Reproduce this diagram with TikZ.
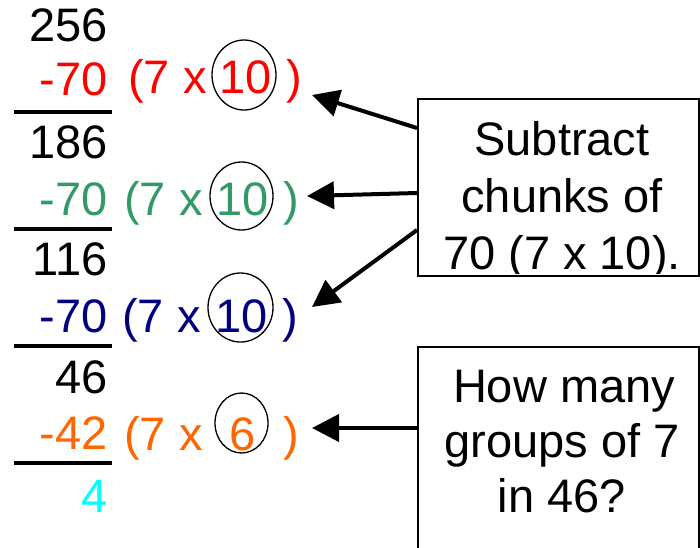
\documentclass[tikz,border=0pt]{standalone}
\usepackage{fontspec}
\setmainfont{Liberation Sans}
\usetikzlibrary{arrows.meta}
\definecolor{cred}{RGB}{255,0,0}
\definecolor{cgreen}{RGB}{51,153,102}
\definecolor{cblue}{RGB}{0,0,128}
\definecolor{corange}{RGB}{255,102,0}
\definecolor{ccyan}{RGB}{0,255,255}
\begin{document}
\begin{tikzpicture}[x=1pt,y=-1pt,
  txt/.style={inner sep=0pt, font=\fontsize{47pt}{56pt}\selectfont},
  num/.style={txt, anchor=base east},
  lft/.style={txt, anchor=base west},
  mid/.style={txt, anchor=base},
  rulebar/.style={line width=4pt},
  ring/.style={line width=1.3pt},
  arr/.style={line width=4pt, -{Triangle[length=27pt,width=27pt]}},
  boxnode/.style={draw, line width=1.5pt, inner sep=0pt, anchor=north west, minimum width=281pt}]
\useasboundingbox (0,0) rectangle (700,547);
\clip (0,0) rectangle (700,547);

% column of numbers
\node[num] (n256) at (108,41) {256};
\node[num,text=cred] (s1) at (108,95) {-70};
\draw[rulebar] (14,112) -- (112,112);
\node[num] (n186) at (108,158) {186};
\node[num,text=cgreen] (s2) at (108,215) {-70};
\draw[rulebar] (14,229) -- (112,229);
\node[num] (n116) at (108,275) {116};
\node[num,text=cblue] (s3) at (108,332) {-70};
\draw[rulebar] (14,346) -- (112,346);
\node[num] (n46) at (108,393) {46};
\node[num,text=corange] (s4) at (108,449) {-42};
\draw[rulebar] (14,463) -- (112,463);
\node[num,text=ccyan] (n4) at (108,512) {4};

% expressions
\node[lft,text=cred] (e1) at (128,93) {(7 x};
\node[mid,text=cred] (c1) at (245.5,93) {10};
\node[lft,text=cred] (p1) at (286,93) {)};
\draw[ring] (244,75) ellipse (32 and 35);

\node[lft,text=cgreen] (e2) at (124,215) {(7 x};
\node[mid,text=cgreen] (c2) at (243,215) {10};
\node[lft,text=cgreen] (p2) at (283,215) {)};
\draw[ring] (241.5,196) ellipse (31.5 and 34);

\node[lft,text=cblue] (e3) at (122,332) {(7 x};
\node[mid,text=cblue] (c3) at (242,332) {10};
\node[lft,text=cblue] (p3) at (282,332) {)};
\draw[ring] (240.5,307.5) ellipse (32.5 and 34.5);

\node[lft,text=corange] (e4) at (124,450) {(7 x};
\node[mid,text=corange] (c4) at (242.5,450) {6};
\node[lft,text=corange] (p4) at (283,450) {)};
\draw[ring] (241.5,423) ellipse (26.5 and 30);

% boxes
\node[boxnode, minimum height=177pt] (b1) at (417,98) {};
\node[boxnode, minimum height=230pt] (b2) at (417,346) {};

\begin{scope}
\clip (b1.north west) rectangle ([yshift=3pt]b1.south east);
\node[mid] (l11) at (562,155) {Subtract};
\node[mid] (l12) at (562,212) {chunks of};
\node[mid] (l13) at (562,269) {70 (7 x 10).};
\end{scope}
\node[mid] (l21) at (564,402) {How many};
\node[mid] (l22) at (562,457) {groups of 7};
\node[mid] (l23) at (562,512) {in 46?};

% arrows
\coordinate (t1) at (312,95);
\coordinate (t2) at (307,196);
\coordinate (t3) at (312,307);
\coordinate (t4) at (312,428);
\draw[arr] ([yshift=-30pt]b1.north west) -- (t1);
\draw[arr] ([yshift=-95pt]b1.north west) -- (t2);
\draw[arr] ([yshift=-132pt]b1.north west) -- (t3);
\draw[arr] ([yshift=-82pt]b2.north west) -- (t4);
\end{tikzpicture}
\end{document}
